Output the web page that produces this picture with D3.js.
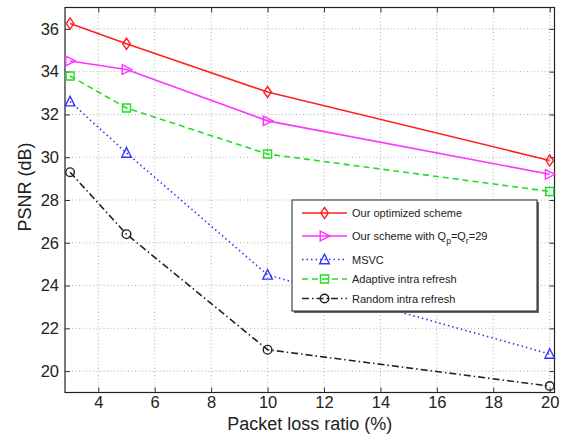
<!DOCTYPE html>
<html><head><meta charset="utf-8">
<script src="https://cdn.jsdelivr.net/npm/d3@7"></script>
<style>body{margin:0;background:#fff}svg{display:block}text{font-family:"Liberation Sans",Arial,Helvetica,sans-serif}</style>
</head><body>
<svg id="c" width="563" height="434"></svg>
<script>
const lossRatio = [3, 5, 10, 20];
const optimized = [36.25, 35.3, 33.05, 29.85];
const fixedQp = [34.5, 34.1, 31.7, 29.2];
const msvc = [32.6, 30.2, 24.5, 20.8];
const adaptive = [33.8, 32.3, 30.15, 28.4];
const randomIntra = [29.3, 26.4, 21.0, 19.3];
const xTicks = [4, 6, 8, 10, 12, 14, 16, 18, 20];
const yTicks = [20, 22, 24, 26, 28, 30, 32, 34, 36];

const series = [
  {name: "Our optimized scheme", values: optimized, color: "#ff2020", dash: null, marker: "diamond"},
  {name: "Our scheme with Q", values: fixedQp, color: "#ff33ff", dash: null, marker: "tright"},
  {name: "MSVC", values: msvc, color: "#3333ff", dash: "1.5,3", marker: "tup"},
  {name: "Adaptive intra refresh", values: adaptive, color: "#22dd22", dash: "6,4", marker: "square"},
  {name: "Random intra refresh", values: randomIntra, color: "#222222", dash: "7,3,1.5,3", marker: "circle"}
];

const svg = d3.select("#c");
const L = 65, R = 554.5, T = 7.5, B = 392.5;
const x = d3.scaleLinear().domain([2.82, 20.17]).range([L, R]);
const y = d3.scaleLinear().domain([19, 37]).range([B, T]);

// grid
const g = svg.append("g");
g.selectAll(".gx").data(xTicks).join("line")
  .attr("x1", d => x(d)).attr("x2", d => x(d)).attr("y1", T).attr("y2", B)
  .attr("stroke", "#999").attr("stroke-width", 0.8).attr("stroke-dasharray", "1,2.5");
g.selectAll(".gy").data(yTicks).join("line")
  .attr("y1", d => y(d)).attr("y2", d => y(d)).attr("x1", L).attr("x2", R)
  .attr("stroke", "#999").attr("stroke-width", 0.8).attr("stroke-dasharray", "1,2.5");

// axes with inward ticks
svg.append("g").attr("transform", `translate(0,${B})`)
  .call(d3.axisBottom(x).tickValues(xTicks).tickSizeInner(-5).tickSizeOuter(0).tickPadding(4));
svg.append("g").attr("transform", `translate(${L},0)`)
  .call(d3.axisLeft(y).tickValues(yTicks).tickSizeInner(-5).tickSizeOuter(0).tickPadding(6));
svg.append("g").attr("transform", `translate(0,${T})`)
  .call(d3.axisTop(x).tickValues(xTicks).tickSizeInner(-5).tickSizeOuter(0).tickFormat(""));
svg.append("g").attr("transform", `translate(${R},0)`)
  .call(d3.axisRight(y).tickValues(yTicks).tickSizeInner(-5).tickSizeOuter(0).tickFormat(""));
svg.selectAll(".domain").remove();
svg.selectAll(".tick line").attr("stroke", "#333");
svg.selectAll(".tick text").attr("font-size", 16.5).attr("fill", "#222")
  .style("font-family", '"Liberation Sans",Arial,sans-serif');
svg.append("rect").attr("x", L).attr("y", T).attr("width", R - L).attr("height", B - T)
  .attr("fill", "none").attr("stroke", "#222").attr("stroke-width", 1.2);

// labels
svg.append("text").attr("x", (L + R) / 2).attr("y", 429.5).attr("text-anchor", "middle")
  .attr("font-size", 18).attr("fill", "#222").text("Packet loss ratio (%)");
svg.append("text").attr("transform", "translate(31,187) rotate(-90)").attr("text-anchor", "middle")
  .attr("font-size", 18).attr("fill", "#222").text("PSNR (dB)");

function marker(sel, type, cx, cy, color) {
  const s = 4.8;
  let p;
  if (type === "diamond") p = `M${cx},${cy - s - 0.8}L${cx + s - 1},${cy}L${cx},${cy + s + 0.8}L${cx - s + 1},${cy}Z`;
  else if (type === "tright") p = `M${cx + s + 0.5},${cy}L${cx - s + 0.5},${cy - s}L${cx - s + 0.5},${cy + s}Z`;
  else if (type === "tup") p = `M${cx},${cy - s - 0.5}L${cx + s},${cy + s - 0.5}L${cx - s},${cy + s - 0.5}Z`;
  else if (type === "square") p = `M${cx - 4},${cy - 4}h8v8h-8Z`;
  if (type === "circle") sel.append("circle").attr("cx", cx).attr("cy", cy).attr("r", 4.3)
    .attr("fill", "none").attr("stroke", color).attr("stroke-width", 1.4);
  else sel.append("path").attr("d", p).attr("fill", "none").attr("stroke", color).attr("stroke-width", 1.4);
}

const line = d3.line().x(d => x(d[0])).y(d => y(d[1]));
series.forEach(s => {
  const pts = lossRatio.map((v, i) => [v, s.values[i]]);
  svg.append("path").attr("d", line(pts)).attr("fill", "none").attr("stroke", s.color)
    .attr("stroke-width", 1.6).attr("stroke-dasharray", s.dash);
  const mg = svg.append("g");
  pts.forEach(p => marker(mg, s.marker, x(p[0]), y(p[1]), s.color));
});

// legend
const lg = svg.append("g");
lg.append("rect").attr("x", 294).attr("y", 202).attr("width", 245).attr("height", 111).attr("fill", "#666");
lg.append("rect").attr("x", 292).attr("y", 200).attr("width", 245).attr("height", 111)
  .attr("fill", "#fff").attr("stroke", "#222").attr("stroke-width", 1);
const rowsY = [213, 236, 259.5, 279, 298.5];
series.forEach((s, i) => {
  const yy = rowsY[i];
  lg.append("line").attr("x1", 302).attr("x2", 347).attr("y1", yy).attr("y2", yy)
    .attr("stroke", s.color).attr("stroke-width", 1.6).attr("stroke-dasharray", s.dash);
  marker(lg, s.marker, 324.5, yy, s.color);
  const t = lg.append("text").attr("x", 352).attr("y", yy + 4).attr("font-size", 11).attr("fill", "#222");
  if (i === 1) {
    t.append("tspan").text("Our scheme with Q");
    t.append("tspan").attr("dy", 4).attr("font-size", 8.5).text("p");
    t.append("tspan").attr("dy", -4).text("=Q");
    t.append("tspan").attr("dy", 4).attr("font-size", 8.5).text("r");
    t.append("tspan").attr("dy", -4).text("=29");
  } else t.text(s.name);
});
</script>
</body></html>
